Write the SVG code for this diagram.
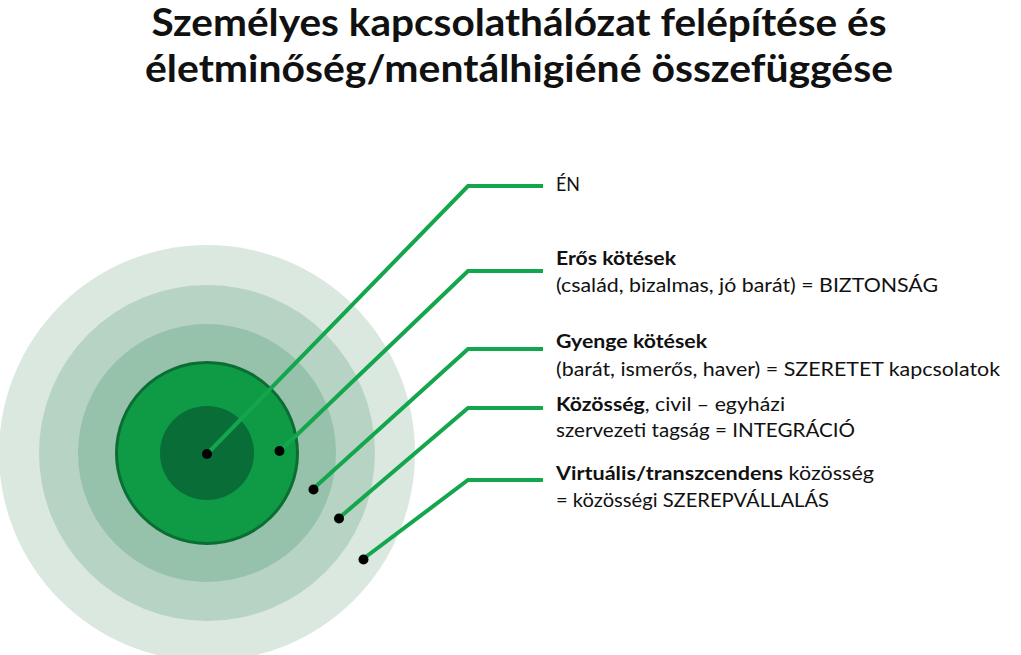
<svg xmlns="http://www.w3.org/2000/svg" width="1021" height="655" viewBox="0 0 1021 655">
<style>
.t{font-family:Lato,"Liberation Sans",sans-serif;fill:#111;}
.title{font-size:38px;font-weight:700;}
.lbl{font-size:19.5px;}
.b{font-weight:700;}
.con{fill:none;stroke:#14a64c;stroke-width:4;stroke-linejoin:miter;}
.dot{fill:#000;}
</style>
<rect width="1021" height="655" fill="#fff"/>
<g id="title">
<text class="t title" x="519" y="36" text-anchor="middle" textLength="735" lengthAdjust="spacingAndGlyphs">Személyes kapcsolathálózat felépítése és</text>
<text class="t title" x="519" y="82" text-anchor="middle" textLength="748" lengthAdjust="spacingAndGlyphs">életminőség/mentálhigiéné összefüggése</text>
</g>
<g id="circles">
<circle id="ring-virtual" cx="207" cy="453" r="208" fill="#dae8e0"/>
<circle id="ring-community" cx="207" cy="453" r="168" fill="#b7d3c4"/>
<circle id="ring-weak" cx="207" cy="453" r="129" fill="#96c1aa"/>
<circle id="ring-strong" cx="207" cy="453" r="90.5" fill="#0f9a45" stroke="#0a6e33" stroke-width="3"/>
<circle id="core-en" cx="207" cy="453" r="47" fill="#086d36"/>
</g>
<g id="connectors">
<polyline class="con" points="207,454 468,186 543,186"/>
<polyline class="con" points="280,451 468,271 543,271"/>
<polyline class="con" points="313,489 468,349 543,349"/>
<polyline class="con" points="339,518 468,408 543,408"/>
<polyline class="con" points="363,559 468,480 543,480"/>
<circle class="dot" cx="207" cy="454" r="5"/>
<circle class="dot" cx="279.5" cy="451" r="5"/>
<circle class="dot" cx="313.5" cy="489.5" r="5"/>
<circle class="dot" cx="339" cy="518.5" r="5"/>
<circle class="dot" cx="363.5" cy="559.5" r="5"/>
</g>
<g id="label-en">
<text class="t lbl" x="556" y="191" textLength="24" lengthAdjust="spacingAndGlyphs">ÉN</text>
</g>
<g id="label-strong">
<text class="t lbl b" x="556" y="265" textLength="120" lengthAdjust="spacingAndGlyphs">Erős kötések</text>
<text class="t lbl" x="556" y="292" textLength="382" lengthAdjust="spacingAndGlyphs">(család, bizalmas, jó barát) = BIZTONSÁG</text>
</g>
<g id="label-weak">
<text class="t lbl b" x="556" y="347.5" textLength="151" lengthAdjust="spacingAndGlyphs">Gyenge kötések</text>
<text class="t lbl" x="556" y="376" textLength="444" lengthAdjust="spacingAndGlyphs">(barát, ismerős, haver) = SZERETET kapcsolatok</text>
</g>
<g id="label-community">
<text class="t lbl" x="556" y="410.5" textLength="229" lengthAdjust="spacingAndGlyphs"><tspan class="b">Közösség</tspan>, civil – egyházi</text>
<text class="t lbl" x="556" y="437" textLength="299" lengthAdjust="spacingAndGlyphs">szervezeti tagság = INTEGRÁCIÓ</text>
</g>
<g id="label-virtual">
<text class="t lbl" x="556" y="480" textLength="318" lengthAdjust="spacingAndGlyphs"><tspan class="b">Virtuális/transzcendens</tspan> közösség</text>
<text class="t lbl" x="556" y="506.5" textLength="273" lengthAdjust="spacingAndGlyphs">= közösségi SZEREPVÁLLALÁS</text>
</g>
</svg>
